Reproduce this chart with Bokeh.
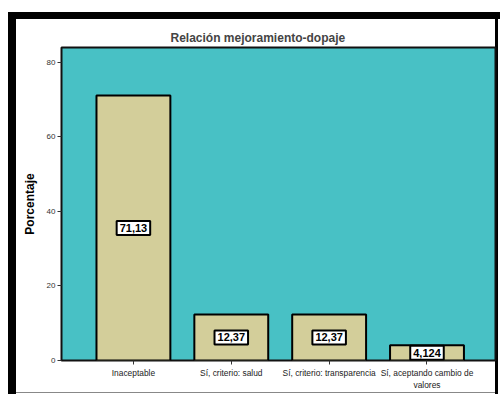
from bokeh.plotting import figure
from bokeh.models import ColumnDataSource, Range1d, FixedTicker
from bokeh.core.properties import value
from bokeh.embed import file_html
from bokeh.resources import INLINE

categories = ["Inaceptable", "Sí, criterio: salud", "Sí, criterio: transparencia",
              "Sí, aceptando cambio de\nvalores"]
values = [71.13, 12.37, 12.37, 4.124]
value_labels = ["71,13", "12,37", "12,37", "4,124"]
y_ticks = [0, 20, 40, 60, 80]

xs = list(range(1, len(categories) + 1))
src = ColumnDataSource(dict(x=xs, top=values, mid=[v / 2 for v in values], lab=value_labels))

FONT = "Liberation Sans"

p = figure(width=500, height=394, output_backend="svg", toolbar_location=None,
           x_range=Range1d(0.265, 4.70), y_range=Range1d(0, 84),
           min_border_left=61, min_border_right=5, min_border_top=47, min_border_bottom=34,
           title="Relación mejoramiento-dopaje")

# window frame drawn as the page background behind a transparent canvas border
p.border_fill_color = None
p.styles = {"background": (
    "linear-gradient(#000,#000) 8px 12px / 492px 7px no-repeat, "
    "linear-gradient(#000,#000) 8px 12px / 8px 382px no-repeat, "
    "linear-gradient(#000,#000) 495px 12px / 3px 382px no-repeat, "
    "linear-gradient(#888,#888) 16px 392px / 479px 1px no-repeat, "
    "#ffffff")}

p.background_fill_color = "#48C1C5"
p.outline_line_color = "#111111"
p.outline_line_width = 2
p.xgrid.visible = False
p.ygrid.visible = False

p.title.text_font = FONT
p.title.text_font_size = "12px"
p.title.text_font_style = "bold"
p.title.align = "left"
p.title.offset = 109
p.title.standoff = 5

p.vbar(x="x", top="top", bottom=0, width=0.755, source=src,
       fill_color="#D3CE9A", line_color="black", line_width=2)

p.text(x="x", y="mid", text="lab", source=src,
       text_align="center", text_baseline="middle",
       text_font=value(FONT), text_font_size="11px", text_font_style="bold",
       text_color="black",
       background_fill_color="white", border_line_color="black",
       border_line_width=2, padding=3)

xa = p.xaxis[0]
xa.ticker = FixedTicker(ticks=xs)
xa.major_label_overrides = {x: c for x, c in zip(xs, categories)}
xa.minor_tick_line_color = None
xa.axis_line_color = None
xa.major_tick_in = 0
xa.major_tick_out = 4
xa.major_tick_line_color = "#333333"
xa.major_label_text_font = FONT
xa.major_label_text_font_size = "8.4px"
xa.major_label_text_color = "#222222"
xa.major_label_standoff = 3

ya = p.yaxis[0]
ya.ticker = FixedTicker(ticks=y_ticks)
ya.minor_tick_line_color = None
ya.axis_line_color = None
ya.major_tick_in = 0
ya.major_tick_out = 4
ya.major_tick_line_color = "#333333"
ya.major_label_text_font = FONT
ya.major_label_text_font_size = "8px"
ya.major_label_text_color = "#333333"
ya.major_label_standoff = 2
ya.axis_label = "Porcentaje"
ya.axis_label_text_font = FONT
ya.axis_label_text_font_size = "12px"
ya.axis_label_text_font_style = "bold"
ya.axis_label_text_color = "black"
ya.axis_label_standoff = 7

open("out.html", "w").write(file_html(p, INLINE))
